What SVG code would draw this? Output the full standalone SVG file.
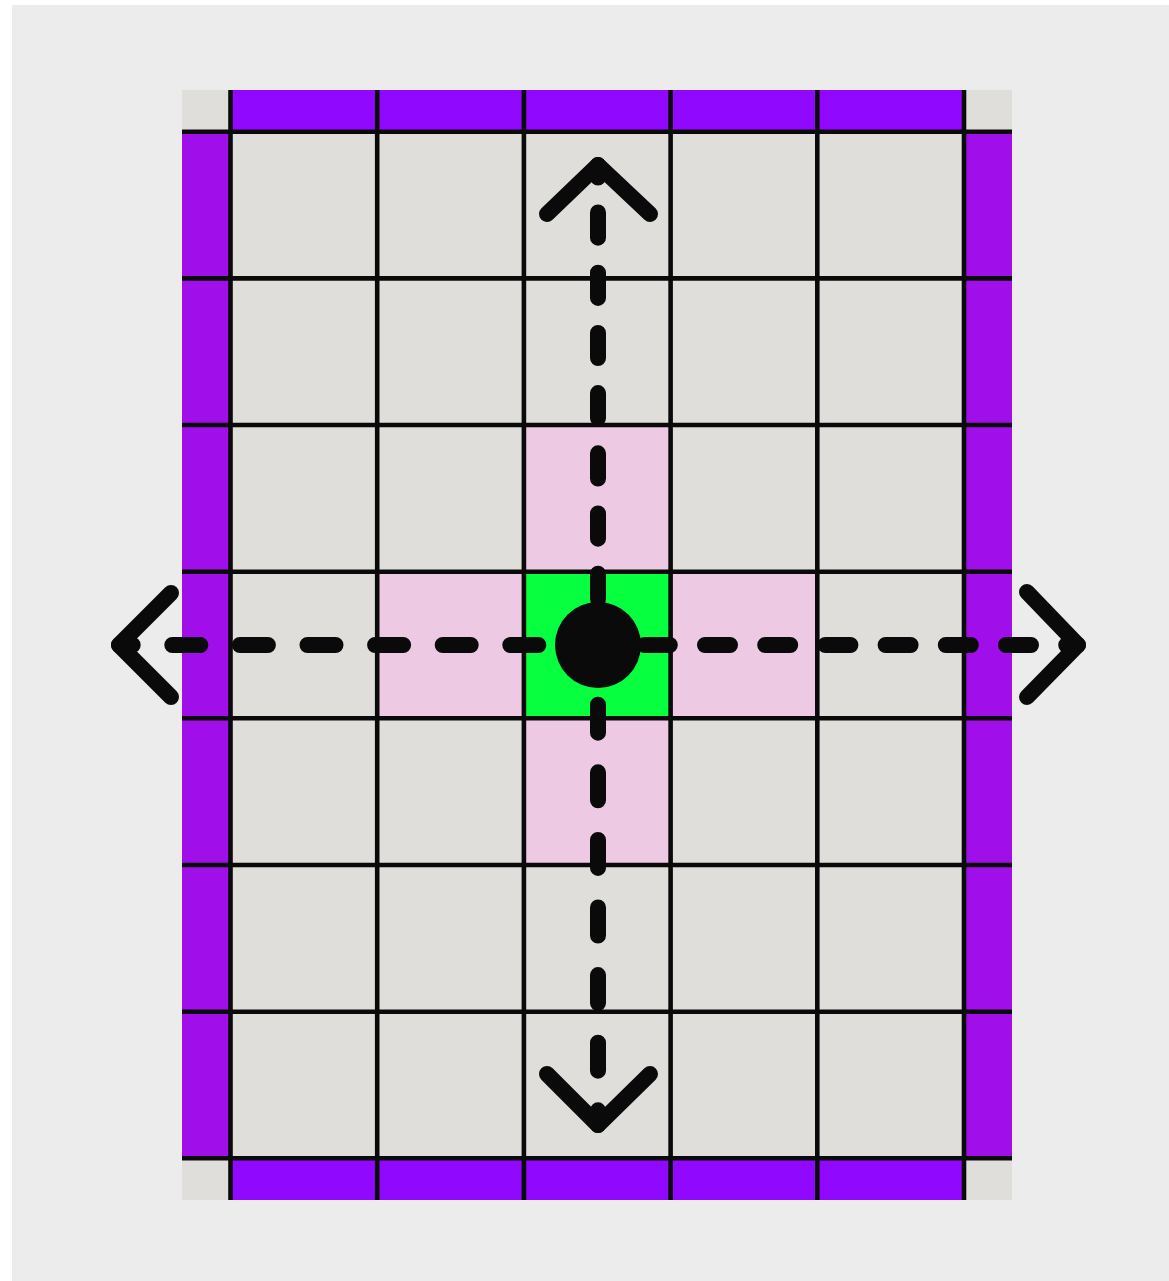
<svg xmlns="http://www.w3.org/2000/svg" width="1169" height="1281" viewBox="0 0 1169 1281">
<style>
.cell{fill:#dfdeda}
.pink{fill:#edc9e4}
.green{fill:#06ff3e}
.bt{fill:#9008fe}
.bs{fill:#a00ee9}
.grid line{stroke:#0a0a0a;stroke-width:4.6}
.dash{fill:none;stroke:#0a0a0a;stroke-width:16;stroke-linecap:round}
.head{fill:none;stroke:#0a0a0a;stroke-width:16;stroke-linecap:round;stroke-linejoin:round}
</style>
<rect x="0" y="0" width="1169" height="1281" fill="#ffffff"/>
<rect x="12" y="5" width="1157" height="1276" fill="#ececec"/>
<g id="board">
<rect class="cell" x="182" y="90" width="830" height="1110"/>
<rect class="bt" x="230.5" y="90" width="733.5" height="41.7"/>
<rect class="bt" x="230.5" y="1158.3" width="733.5" height="41.7"/>
<rect class="bs" x="182" y="131.7" width="48.5" height="1026.6"/>
<rect class="bs" x="964" y="131.7" width="48" height="1026.6"/>
</g>
<g id="neighbors">
<rect class="pink" x="523.9" y="425" width="146.7" height="146.7"/>
<rect class="pink" x="377.2" y="571.7" width="146.7" height="146.6"/>
<rect class="pink" x="670.6" y="571.7" width="146.7" height="146.6"/>
<rect class="pink" x="523.9" y="718.3" width="146.7" height="146.7"/>
</g>
<g id="current-cell">
<rect class="green" x="523.9" y="571.7" width="146.7" height="146.6"/>
</g>
<g class="grid" id="grid-lines">
<line x1="230.5" y1="90" x2="230.5" y2="1200"/>
<line x1="377.2" y1="90" x2="377.2" y2="1200"/>
<line x1="523.9" y1="90" x2="523.9" y2="1200"/>
<line x1="670.6" y1="90" x2="670.6" y2="1200"/>
<line x1="817.3" y1="90" x2="817.3" y2="1200"/>
<line x1="964" y1="90" x2="964" y2="1200"/>
<line x1="182" y1="131.7" x2="1012" y2="131.7"/>
<line x1="182" y1="278.4" x2="1012" y2="278.4"/>
<line x1="182" y1="425" x2="1012" y2="425"/>
<line x1="182" y1="571.7" x2="1012" y2="571.7"/>
<line x1="182" y1="718.3" x2="1012" y2="718.3"/>
<line x1="182" y1="865" x2="1012" y2="865"/>
<line x1="182" y1="1011.7" x2="1012" y2="1011.7"/>
<line x1="182" y1="1158.3" x2="1012" y2="1158.3"/>
</g>
<g id="connectors">
<path class="dash" d="M598 165 V645" stroke-dasharray="25.2 35" stroke-dashoffset="12.7"/>
<path class="dash" d="M598 645 H1078" stroke-dasharray="25 35.2" stroke-dashoffset="13.4"/>
<path class="dash" d="M119 645 H598" stroke-dasharray="28 39.6" stroke-dashoffset="14.3"/>
<path class="dash" d="M598 645 V1125" stroke-dasharray="28 39.6" stroke-dashoffset="7.9"/>
<path class="head" d="M547 214 L598 165 L650 214"/>
<path class="head" d="M547 1074 L598 1125 L650 1074"/>
<path class="head" d="M171 593 L119 645 L171 697"/>
<path class="head" d="M1027 592 L1078 645 L1027 697"/>
</g>
<g id="player">
<circle cx="598" cy="645" r="43" fill="#0a0a0a"/>
</g>
</svg>
